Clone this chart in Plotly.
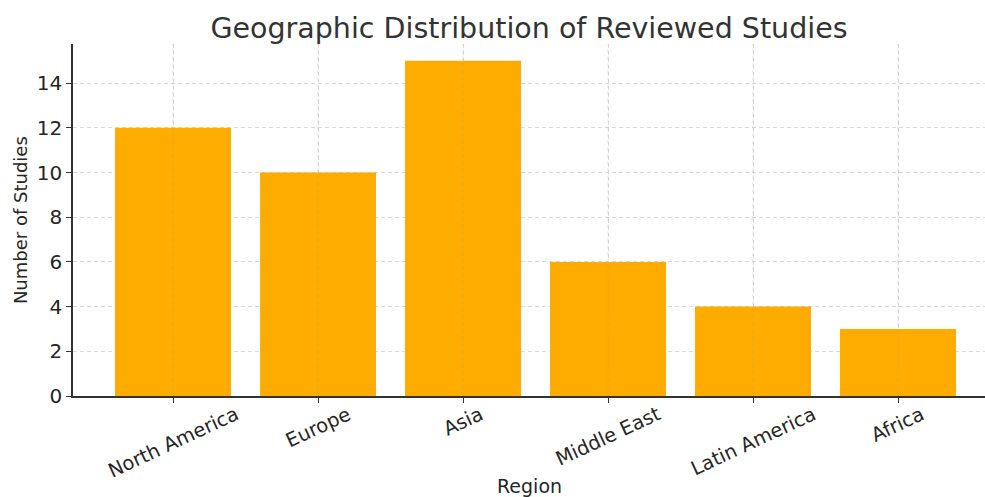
import plotly.graph_objects as go

# Number of reviewed studies per world region
regions = ["North America", "Europe", "Asia", "Middle East", "Latin America", "Africa"]
study_counts = [12, 10, 15, 6, 4, 3]
y_ticks = [0, 2, 4, 6, 8, 10, 12, 14]

BAR_COLOR = "#FFAC00"
TEXT_COLOR = "#262626"
GRID_COLOR = "#d9d9d9"
FONT = "DejaVu Sans"

fig = go.Figure(
    go.Bar(
        x=regions,
        y=study_counts,
        marker=dict(color=BAR_COLOR, line=dict(width=0)),
        width=0.8,
        showlegend=False,
    )
)

# rotated region labels, centred under each tick
annotations = [
    dict(
        x=r, y=0, xref="x", yref="paper",
        text=r, showarrow=False, textangle=-25,
        xanchor="center", yanchor="top", yshift=-4,
        font=dict(family=FONT, size=19.5, color=TEXT_COLOR),
    )
    for r in regions
]
annotations.append(dict(
    x=0.5, y=-0.257, xref="paper", yref="paper",
    text="Region", showarrow=False,
    xanchor="center", yanchor="middle",
    font=dict(family=FONT, size=19, color=TEXT_COLOR),
))
annotations.append(dict(
    x=-0.058, y=0.5, xref="paper", yref="paper",
    text="Number of Studies", showarrow=False, textangle=-90,
    xanchor="center", yanchor="middle",
    font=dict(family=FONT, size=18, color=TEXT_COLOR),
))

# faint vertical guides drawn over the bars at each category
shapes = [
    dict(
        type="line", xref="x", yref="paper",
        x0=r, x1=r, y0=0, y1=1, layer="above",
        line=dict(color="rgba(150,150,150,0.25)", width=1, dash="4px,3px"),
    )
    for r in regions
]

fig.update_layout(
    width=985,
    height=497,
    margin=dict(l=73, r=0, t=44, b=101),
    paper_bgcolor="white",
    plot_bgcolor="white",
    font=dict(family=FONT, color=TEXT_COLOR),
    title=dict(
        text="Geographic Distribution of Reviewed Studies",
        x=0.5, xref="paper", xanchor="center",
        y=1 - 28 / 497, yanchor="middle",
        font=dict(family=FONT, size=28.5, color="#333333"),
    ),
    xaxis=dict(
        range=[-0.69, 5.6],
        showticklabels=False,
        ticks="outside", ticklen=5, tickcolor="#333333",
        showgrid=True, gridcolor=GRID_COLOR, griddash="4px,3px", gridwidth=1,
        showline=True, linecolor="#333333", linewidth=1.5,
        zeroline=False,
    ),
    yaxis=dict(
        range=[0, 15.75],
        tickvals=y_ticks,
        ticks="outside", ticklen=5, tickcolor="#333333",
        tickfont=dict(family=FONT, size=20, color=TEXT_COLOR),
        showgrid=True, gridcolor=GRID_COLOR, griddash="4px,3px", gridwidth=1,
        showline=True, linecolor="#333333", linewidth=1.5,
        zeroline=False,
    ),
    annotations=annotations,
    shapes=shapes,
    bargap=0.2,
)

fig.write_html("out.html")
